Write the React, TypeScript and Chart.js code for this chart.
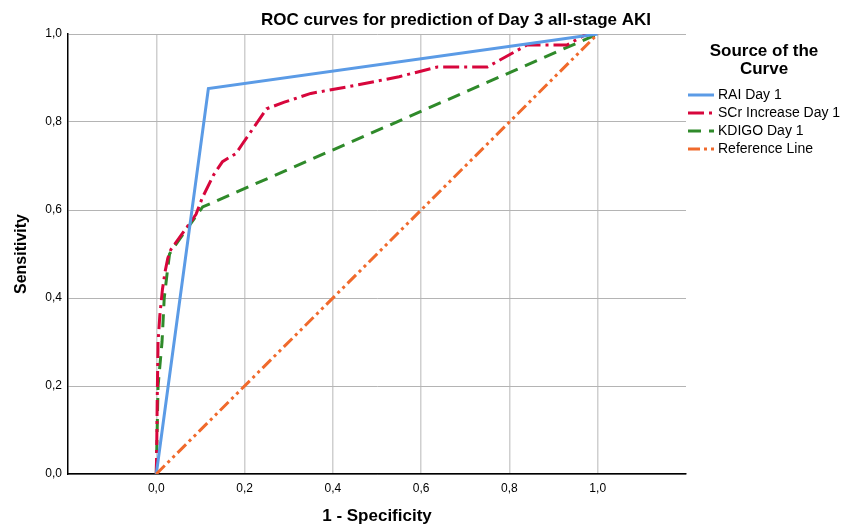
import React, { useEffect, useRef } from "react";
import { Chart, registerables } from "chart.js";

Chart.register(...registerables);

const chartTitle = "ROC curves for prediction of Day 3 all-stage AKI";
const legendTitle = ["Source of the", "Curve"];
const seriesNames = ["RAI Day 1", "SCr Increase Day 1", "KDIGO Day 1", "Reference Line"];
const xTickValues = [0, 0.2, 0.4, 0.6, 0.8, 1.0];
const yTickValues = [0, 0.2, 0.4, 0.6, 0.8, 1.0];

const raiX = [0, 0.118, 1];
const raiY = [0, 0.876, 1];

const scrX = [0, 0.001, 0.002, 0.004, 0.008, 0.014, 0.02, 0.026, 0.033, 0.09, 0.104, 0.13, 0.15, 0.18, 0.195, 0.25, 0.29, 0.35, 0.45, 0.55, 0.637, 0.75, 0.84, 0.93, 0.975, 1];
const scrY = [0, 0.06, 0.16, 0.3, 0.36, 0.42, 0.46, 0.49, 0.51, 0.59, 0.627, 0.68, 0.71, 0.728, 0.75, 0.83, 0.845, 0.865, 0.883, 0.903, 0.925, 0.925, 0.975, 0.975, 1, 1];

const kdigoX = [0, 0.002, 0.004, 0.013, 0.018, 0.025, 0.03, 0.036, 0.105, 1];
const kdigoY = [0, 0.1, 0.2, 0.3, 0.4, 0.46, 0.5, 0.51, 0.607, 1];

const refX = [0, 1];
const refY = [0, 1];

const colors = ["#5b9be6", "#d7063c", "#2f8a2a", "#f06a2c"];
const dashes: number[][] = [[], [16, 5, 3, 5], [13, 8], [12, 4, 3, 4, 3, 4]];

const fmt = (v: number) => v.toFixed(1).replace(".", ",");
const toPts = (xs: number[], ys: number[]) => xs.map((x, i) => ({ x, y: ys[i] }));

const FONT = "'Liberation Sans', Arial, sans-serif";

const overlay = {
  id: "overlay",
  afterDraw(chart: any) {
    const ctx = chart.ctx;
    ctx.save();
    ctx.fillStyle = "#000";
    ctx.textBaseline = "middle";
    ctx.textAlign = "center";
    ctx.font = `bold 17px ${FONT}`;
    ctx.fillText(chartTitle, 456, 20);
    ctx.fillText(legendTitle[0], 764, 51);
    ctx.fillText(legendTitle[1], 764, 69);
    ctx.textAlign = "left";
    ctx.font = `14px ${FONT}`;
    const ys = [95, 113, 131, 149];
    seriesNames.forEach((name, i) => {
      const y = ys[i];
      ctx.beginPath();
      ctx.strokeStyle = colors[i];
      ctx.lineWidth = 3;
      ctx.setLineDash(dashes[i]);
      ctx.moveTo(688, y);
      ctx.lineTo(714, y);
      ctx.stroke();
      ctx.setLineDash([]);
      ctx.fillText(name, 718, y);
    });
    ctx.restore();
  },
};

export default function App() {
  const ref = useRef<HTMLCanvasElement>(null);
  useEffect(() => {
    const series = [
      toPts(raiX, raiY),
      toPts(scrX, scrY),
      toPts(kdigoX, kdigoY),
      toPts(refX, refY),
    ];
    const chart = new Chart(ref.current!, {
      type: "line",
      data: {
        datasets: series.map((data, i) => ({
          label: seriesNames[i],
          data,
          borderColor: colors[i],
          backgroundColor: colors[i],
          borderWidth: 3,
          borderDash: dashes[i],
          borderCapStyle: "butt",
          pointRadius: 0,
          tension: 0,
          fill: false,
          order: i === 3 ? 0 : i + 1,
        })),
      },
      options: {
        animation: false,
        responsive: false,
        events: [],
        layout: { padding: { left: 0, right: 170, top: 34, bottom: 0 } },
        plugins: { legend: { display: false }, title: { display: false }, tooltip: { enabled: false } },
        scales: {
          x: {
            type: "linear",
            min: -0.2,
            max: 1.2,
            afterBuildTicks: (s: any) => {
              s.ticks = xTickValues.map((v) => ({ value: v }));
            },
            afterFit: (s: any) => {
              s.height = 53;
            },
            ticks: { callback: (v: any) => fmt(Number(v)), font: { family: FONT, size: 12 }, color: "#000", padding: 7, maxRotation: 0, autoSkip: false },
            grid: { color: "#cfcfcf", lineWidth: 1.5, drawTicks: false },
            border: { color: "#000", width: 1.5 },
            title: { display: true, text: "1 - Specificity", font: { family: FONT, size: 17, weight: "bold" }, color: "#000", padding: { top: 0, bottom: 0 } },
          },
          y: {
            type: "linear",
            min: 0,
            max: 1,
            afterBuildTicks: (s: any) => {
              s.ticks = yTickValues.map((v) => ({ value: v }));
            },
            afterFit: (s: any) => {
              s.width = 68;
            },
            ticks: { callback: (v: any) => fmt(Number(v)), font: { family: FONT, size: 12 }, color: "#000", padding: 6 },
            grid: { color: "#b4b4b4", lineWidth: 1, drawTicks: false },
            border: { color: "#000", width: 1.5 },
            title: { display: true, text: "Sensitivity", font: { family: FONT, size: 16, weight: "bold" }, color: "#000", padding: { top: 12, bottom: 0 } },
          },
        },
      },
      plugins: [overlay],
    } as any);
    return () => chart.destroy();
  }, []);
  return (
    <div style={{ width: 856, height: 527, position: "absolute", left: 0, top: 0, background: "#fff" }}>
      <canvas ref={ref} width={856} height={527} style={{ display: "block" }} />
    </div>
  );
}
